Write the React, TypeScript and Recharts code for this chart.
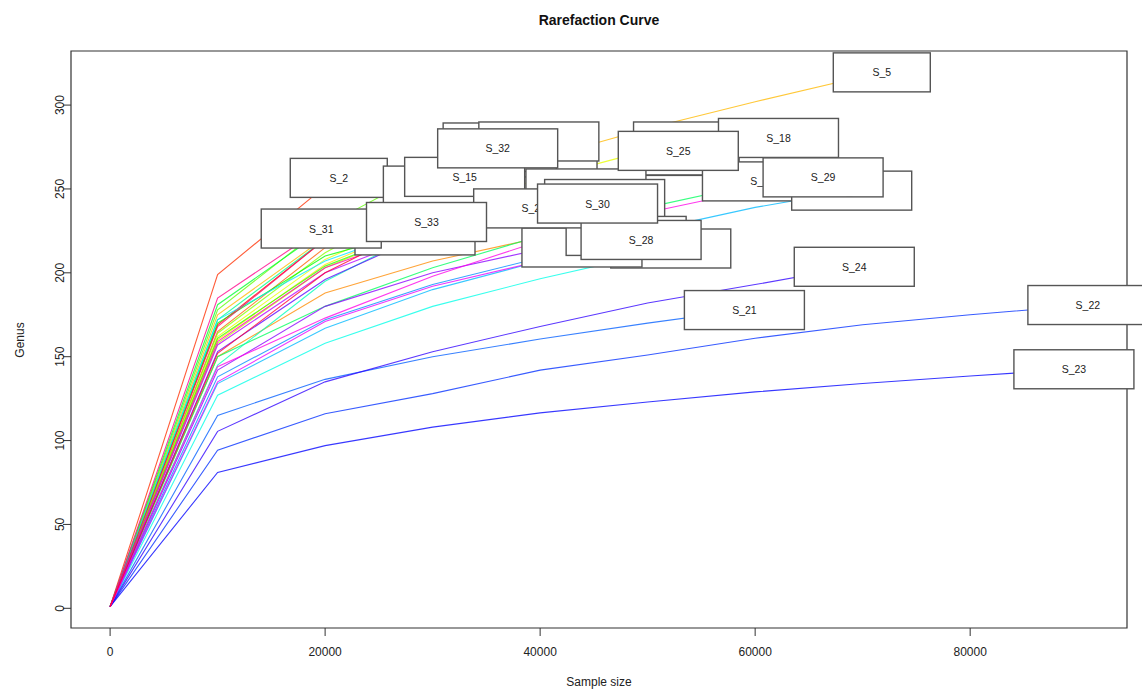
import { ComposedChart, Line, Scatter, XAxis, YAxis, ReferenceArea } from "recharts";

// rarefaction: genus count at each 10k step, last value = full sample depth
const sampleNames = [
  "S_1", "S_2", "S_3", "S_4", "S_5", "S_6", "S_7", "S_8", "S_9", "S_10", "S_11",
  "S_12", "S_13", "S_14", "S_15", "S_16", "S_17", "S_18", "S_19", "S_20", "S_21", "S_22",
  "S_23", "S_24", "S_25", "S_26", "S_27", "S_28", "S_29", "S_30", "S_31", "S_32", "S_33",
];

const depthSteps = [1, 10000, 20000, 30000, 40000, 50000, 60000, 70000, 80000];

const finalDepth = [
  35490, 21270, 40780, 43050, 71780, 52800, 53200, 54000, 37000, 39880, 44260,
  46000, 31000, 60680, 32980, 28360, 52150, 62170, 68980, 43890, 59000, 90950,
  89650, 69220, 52850, 48000, 39400, 49390, 66320, 45340, 19640, 36050, 29430,
];

const genus = [
  [1, 169, 220, 258, 277.7],
  [1, 199, 251.5, 256.6],
  [1, 165, 215, 246, 267, 268.8],
  [1, 150, 188, 207, 221, 225.2],
  [1, 175, 221, 248, 268, 286, 302, 317, 319.5],
  [1, 160, 205, 232, 250, 265, 269.7],
  [1, 162, 208, 236, 256, 273, 278.3],
  [1, 158, 203, 230, 249, 264, 270],
  [1, 164, 212, 247, 272],
  [1, 178, 228, 262, 278.3],
  [1, 161, 204, 229, 245, 250.3],
  [1, 170, 210, 228, 239, 244],
  [1, 181, 226, 250, 252],
  [1, 150, 180, 203, 222, 239, 253, 254.5],
  [1, 172, 220, 250, 257.2],
  [1, 145, 195, 222.3],
  [1, 127, 158, 180, 196.5, 211, 214.5],
  [1, 172, 207, 230, 247, 262, 277, 280.4],
  [1, 134, 167, 190, 207, 225, 239, 249],
  [1, 138, 172, 193, 209, 215.1],
  [1, 115, 136.5, 150, 160.5, 170, 177.8],
  [1, 94.3, 116, 128, 142, 151, 161, 169, 175, 180.8],
  [1, 81, 97, 108, 116.5, 123, 129, 134, 138.5, 142.5],
  [1, 105.5, 135, 153, 168, 182, 193, 203.6],
  [1, 153, 196, 225, 247, 265, 272.7],
  [1, 142, 180, 200, 214, 222],
  [1, 157, 200, 225, 238.4],
  [1, 135, 171, 192, 207, 219.6],
  [1, 144, 173, 198, 219, 236, 249.5, 256.9],
  [1, 159, 203, 226, 237, 241.3],
  [1, 185, 226.4],
  [1, 168, 220, 255, 274.2],
  [1, 152, 200, 230.3],
];

const xTicks = [0, 20000, 40000, 60000, 80000];
const yTicks = [0, 50, 100, 150, 200, 250, 300];

// R style 4% padding around data range
const X_DOMAIN: [number, number] = [-3637, 94588];
const Y_DOMAIN: [number, number] = [-11.74, 332.24];

const W = 1142;
const H = 689;
const PLOT_TOP = 51;
const PLOT_BOTTOM = 628;
const FONT = '"Liberation Sans", Arial, Helvetica, sans-serif';

// R rainbow(n)
const rainbow = (i: number, n: number) => `hsl(${(i / n) * 360}, 100%, 50%)`;

const series = sampleNames.map((name, i) => {
  const vals = genus[i];
  const pts = vals.map((y, j) => ({ x: j === vals.length - 1 ? finalDepth[i] : depthSteps[j], y }));
  return { name, color: rainbow(i, sampleNames.length), pts };
});

const endpoints = series.map((s) => ({ ...s.pts[s.pts.length - 1], name: s.name }));

function LabelBox(props: any) {
  const { cx, cy, payload } = props;
  const w = payload.name.length > 3 ? 120 : 97;
  return (
    <g>
      <rect x={cx - w / 2} y={cy - 19.5} width={w} height={39} fill="#fff" stroke="#555" strokeWidth={1.4} />
      <text x={cx} y={cy} textAnchor="middle" dominantBaseline="central" fontSize={10.5} fontFamily={FONT} fill="#222">
        {payload.name}
      </text>
    </g>
  );
}

function XTick(props: any) {
  const { x, payload } = props;
  return (
    <text x={x} y={PLOT_BOTTOM + 24} textAnchor="middle" dominantBaseline="central" fontSize={12} fontFamily={FONT} fill="#222">
      {payload.value}
    </text>
  );
}

function YTick(props: any) {
  const { y, payload } = props;
  const tx = 60;
  return (
    <text
      x={tx}
      y={y}
      transform={`rotate(-90, ${tx}, ${y})`}
      textAnchor="middle"
      dominantBaseline="central"
      fontSize={12}
      fontFamily={FONT}
      fill="#222"
    >
      {payload.value}
    </text>
  );
}

export default function App() {
  return (
    <div style={{ position: "absolute", left: 0, top: 0, width: W, height: H, background: "#fff" }}>
      <ComposedChart width={W} height={H} margin={{ top: PLOT_TOP, right: 15, left: 0, bottom: 0 }}>
        <XAxis
          type="number"
          dataKey="x"
          domain={X_DOMAIN}
          ticks={xTicks}
          axisLine={false}
          tickSize={8}
          tickLine={{ stroke: "#333" }}
          tick={<XTick />}
          height={61}
        />
        <YAxis
          type="number"
          dataKey="y"
          domain={Y_DOMAIN}
          ticks={yTicks}
          axisLine={false}
          tickSize={8}
          tickLine={{ stroke: "#333" }}
          tick={<YTick />}
          width={71}
        />
        <ReferenceArea x1={X_DOMAIN[0]} x2={X_DOMAIN[1]} y1={Y_DOMAIN[0]} y2={Y_DOMAIN[1]} fill="none" stroke="#333" strokeWidth={1.2} />
        {series.map((s) => (
          <Line
            key={s.name}
            data={s.pts}
            dataKey="y"
            type="linear"
            stroke={s.color}
            strokeOpacity={0.78}
            strokeWidth={1.1}
            dot={false}
            activeDot={false}
            isAnimationActive={false}
          />
        ))}
        <Scatter data={endpoints} dataKey="y" shape={<LabelBox />} isAnimationActive={false} />
        <text x={599} y={20} textAnchor="middle" dominantBaseline="central" fontSize={14} fontWeight="bold" fontFamily={FONT} fill="#111">
          Rarefaction Curve
        </text>
        <text x={599} y={682} textAnchor="middle" dominantBaseline="central" fontSize={12} fontFamily={FONT} fill="#222">
          Sample size
        </text>
        <text x={20} y={340} transform="rotate(-90, 20, 340)" textAnchor="middle" dominantBaseline="central" fontSize={12} fontFamily={FONT} fill="#222">
          Genus
        </text>
      </ComposedChart>
    </div>
  );
}
